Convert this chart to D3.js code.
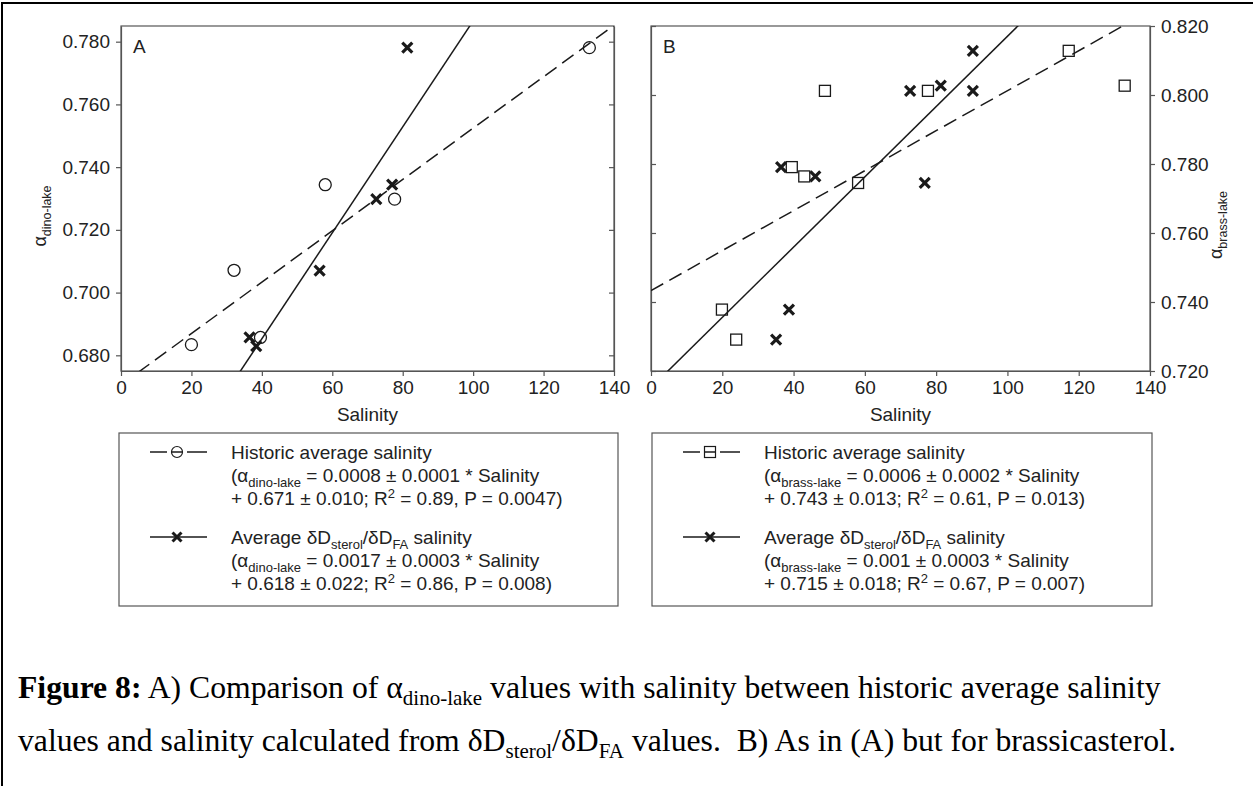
<!DOCTYPE html>
<html>
<head>
<meta charset="utf-8">
<script src="https://cdn.jsdelivr.net/npm/d3@7/dist/d3.min.js"></script>
<style>
  html, body { margin: 0; padding: 0; background: #fff; }
  svg { display: block; }
</style>
</head>
<body>
<svg id="fig" width="1253" height="786"></svg>
<script>
// ---- Panel A: dinosterol ----
const salA_hist   = [20.0, 32.1, 39.6, 58.0, 77.7, 133.0];
const alphaA_hist = [0.6834, 0.7071, 0.6857, 0.7344, 0.7298, 0.7781];
const salA_ster   = [36.5, 38.4, 56.4, 72.5, 77.0, 81.3];
const alphaA_ster = [0.6857, 0.6829, 0.7070, 0.7298, 0.7344, 0.7781];

// ---- Panel B: brassicasterol ----
const salB_hist   = [19.9, 23.9, 39.5, 43.0, 48.8, 58.1, 77.7, 117.2, 132.9];
const alphaB_hist = [0.7378, 0.7291, 0.7791, 0.7764, 0.8012, 0.7745, 0.8012, 0.8128, 0.8027];
const salB_ster   = [36.5, 38.7, 35.1, 46.1, 72.7, 76.8, 81.3, 90.3, 90.3];
const alphaB_ster = [0.7791, 0.7378, 0.7291, 0.7764, 0.8012, 0.7745, 0.8027, 0.8128, 0.8012];

// ---- Axis ticks ----
const salinityTicks = [0, 20, 40, 60, 80, 100, 120, 140];
const alphaTicksA = [0.680, 0.700, 0.720, 0.740, 0.760, 0.780];
const alphaTicksB = [0.720, 0.740, 0.760, 0.780, 0.800, 0.820];

// ---- Legend equations ----
const legendA = [
  {pre: "(α", sub: "dino-lake", post: " = 0.0008 ± 0.0001 * Salinity", line3: ["+ 0.671 ± 0.010; R", "2", " = 0.89, P = 0.0047)"]},
  {pre: "(α", sub: "dino-lake", post: " = 0.0017 ± 0.0003 * Salinity", line3: ["+ 0.618 ± 0.022; R", "2", " = 0.86, P = 0.008)"]}
];
const legendB = [
  {pre: "(α", sub: "brass-lake", post: " = 0.0006 ± 0.0002 * Salinity", line3: ["+ 0.743 ± 0.013; R", "2", " = 0.61, P = 0.013)"]},
  {pre: "(α", sub: "brass-lake", post: " = 0.001 ± 0.0003 * Salinity", line3: ["+ 0.715 ± 0.018; R", "2", " = 0.67, P = 0.007)"]}
];

const SANS = "'Liberation Sans', Arial, sans-serif";
const SERIF = "'Liberation Serif', 'Times New Roman', serif";
const INK = "#1a1a1a";
const AXIS = "#555";

const svg = d3.select("#fig");

// outer figure frame (top and left rules)
svg.append("line").attr("x1", 1).attr("x2", 1253).attr("y1", 3).attr("y2", 3)
  .attr("stroke", "#000").attr("stroke-width", 2);
svg.append("line").attr("x1", 2).attr("x2", 2).attr("y1", 3).attr("y2", 786)
  .attr("stroke", "#000").attr("stroke-width", 2);

// least-squares line through a series
function fit(xs, ys) {
  const mx = d3.mean(xs), my = d3.mean(ys);
  let sxy = 0, sxx = 0;
  xs.forEach((x, i) => { sxy += (x - mx) * (ys[i] - my); sxx += (x - mx) ** 2; });
  const m = sxy / sxx;
  return {m, b: my - m * mx};
}

function crossPath(s) {
  return `M${-s},${-s}L${s},${s}M${-s},${s}L${s},${-s}`;
}

function drawPanel(cfg) {
  const x = d3.scaleLinear().domain([0, 140]).range([cfg.left, cfg.right]);
  const y = d3.scaleLinear().domain(cfg.yDomain).range([cfg.bottom, cfg.top]);
  const g = svg.append("g");

  // frame
  g.append("rect").attr("x", cfg.left).attr("y", cfg.top)
    .attr("width", cfg.right - cfg.left).attr("height", cfg.bottom - cfg.top)
    .attr("fill", "none").attr("stroke", AXIS).attr("stroke-width", 1.2);

  // x axis
  const xa = g.append("g").attr("transform", `translate(0,${cfg.bottom})`)
    .call(d3.axisBottom(x).tickValues(salinityTicks).tickFormat(d3.format("d"))
      .tickSize(5).tickSizeOuter(0).tickPadding(5));
  // labelled y axis (outer side) and unlabelled inner ticks (opposite side)
  const fmt = d3.format(".3f");
  let ya, yi;
  if (cfg.ySide === "left") {
    ya = g.append("g").attr("transform", `translate(${cfg.left},0)`)
      .call(d3.axisLeft(y).tickValues(cfg.yTicks).tickFormat(fmt).tickSize(5).tickSizeOuter(0).tickPadding(6));
    yi = g.append("g").attr("transform", `translate(${cfg.right},0)`)
      .call(d3.axisLeft(y).tickValues(cfg.yTicks).tickFormat("").tickSize(5).tickSizeOuter(0));
  } else {
    ya = g.append("g").attr("transform", `translate(${cfg.right},0)`)
      .call(d3.axisRight(y).tickValues(cfg.yTicks).tickFormat(fmt).tickSize(5).tickSizeOuter(0).tickPadding(6));
    yi = g.append("g").attr("transform", `translate(${cfg.left},0)`)
      .call(d3.axisRight(y).tickValues(cfg.yTicks).tickFormat("").tickSize(5).tickSizeOuter(0));
  }
  [xa, ya, yi].forEach(a => {
    a.select(".domain").attr("stroke", AXIS).attr("stroke-width", 1.2);
    a.selectAll(".tick line").attr("stroke", AXIS).attr("stroke-width", 1.2);
    a.selectAll(".tick text").attr("fill", "#222").style("font-family", SANS).style("font-size", "19px");
  });

  // panel letter
  g.append("text").attr("x", cfg.left + 12).attr("y", 53).text(cfg.letter)
    .attr("fill", "#222").style("font-family", SANS).style("font-size", "19px");

  // axis titles
  g.append("text").attr("x", (cfg.left + cfg.right) / 2).attr("y", 421)
    .attr("text-anchor", "middle").attr("fill", "#222")
    .style("font-family", SANS).style("font-size", "19px").text("Salinity");
  const yt = g.append("text").attr("transform", `translate(${cfg.yTitleX},${cfg.yTitleY}) rotate(-90)`)
    .attr("text-anchor", "middle").attr("fill", "#222").style("font-family", SANS);
  yt.append("tspan").style("font-size", "18px").text("α");
  yt.append("tspan").style("font-size", "12.5px").attr("dy", 5).text(cfg.sub);

  // regression lines, clipped to the plot area
  const clipId = "clip" + cfg.letter;
  svg.append("clipPath").attr("id", clipId).append("rect")
    .attr("x", cfg.left).attr("y", cfg.top)
    .attr("width", cfg.right - cfg.left).attr("height", cfg.bottom - cfg.top);
  const lines = g.append("g").attr("clip-path", `url(#${clipId})`);
  const fh = fit(cfg.histX, cfg.histY);
  const fs = fit(cfg.sterX, cfg.sterY);
  const lineGen = d3.line().x(d => x(d[0])).y(d => y(d[1]));
  lines.append("path").datum([[0, fh.b], [140, fh.b + fh.m * 140]])
    .attr("d", lineGen).attr("fill", "none").attr("stroke", INK)
    .attr("stroke-width", 1.5).attr("stroke-dasharray", "14,7");
  lines.append("path").datum([[0, fs.b], [140, fs.b + fs.m * 140]])
    .attr("d", lineGen).attr("fill", "none").attr("stroke", INK).attr("stroke-width", 1.5);

  // historic markers
  const hist = cfg.histX.map((v, i) => [v, cfg.histY[i]]);
  if (cfg.marker === "circle") {
    g.selectAll(null).data(hist).enter().append("circle")
      .attr("cx", d => x(d[0])).attr("cy", d => y(d[1])).attr("r", 6)
      .attr("fill", "none").attr("stroke", INK).attr("stroke-width", 1.3);
  } else {
    g.selectAll(null).data(hist).enter().append("rect")
      .attr("x", d => x(d[0]) - 5.5).attr("y", d => y(d[1]) - 5.5)
      .attr("width", 11).attr("height", 11)
      .attr("fill", "none").attr("stroke", INK).attr("stroke-width", 1.3);
  }
  // sterol-derived markers
  const ster = cfg.sterX.map((v, i) => [v, cfg.sterY[i]]);
  g.selectAll(null).data(ster).enter().append("path")
    .attr("transform", d => `translate(${x(d[0])},${y(d[1])})`)
    .attr("d", crossPath(5)).attr("stroke", INK).attr("stroke-width", 3.2).attr("fill", "none");

  // legend box
  const L = cfg.legLeft, T = 433;
  g.append("rect").attr("x", L).attr("y", T).attr("width", cfg.legWidth).attr("height", 173)
    .attr("fill", "none").attr("stroke", AXIS).attr("stroke-width", 1.2);
  const c = L + 58;
  const rows = [452, 537];
  // dashed entry with hollow marker
  [[c - 27, c - 10], [c - 5, c + 5], [c + 10, c + 30]].forEach(s => {
    g.append("line").attr("x1", s[0]).attr("x2", s[1]).attr("y1", rows[0]).attr("y2", rows[0])
      .attr("stroke", INK).attr("stroke-width", 1.5);
  });
  if (cfg.marker === "circle") {
    g.append("circle").attr("cx", c).attr("cy", rows[0]).attr("r", 5.5)
      .attr("fill", "none").attr("stroke", INK).attr("stroke-width", 1.2);
  } else {
    g.append("rect").attr("x", c - 5.5).attr("y", rows[0] - 5.5).attr("width", 11).attr("height", 11)
      .attr("fill", "none").attr("stroke", INK).attr("stroke-width", 1.2);
  }
  // solid entry with cross
  g.append("line").attr("x1", c - 27).attr("x2", c + 30).attr("y1", rows[1]).attr("y2", rows[1])
    .attr("stroke", INK).attr("stroke-width", 1.5);
  g.append("path").attr("transform", `translate(${c},${rows[1]})`).attr("d", crossPath(4.5))
    .attr("stroke", INK).attr("stroke-width", 3).attr("fill", "none");

  const tx = L + 112;
  const lt = (yy) => g.append("text").attr("x", tx).attr("y", yy).attr("fill", "#222")
    .style("font-family", SANS).style("font-size", "19px");
  lt(459).text("Historic average salinity");
  const t2 = lt(544);
  t2.append("tspan").text("Average δD");
  t2.append("tspan").attr("dy", 5).style("font-size", "13px").text("sterol");
  t2.append("tspan").attr("dy", -5).text("/δD");
  t2.append("tspan").attr("dy", 5).style("font-size", "13px").text("FA");
  t2.append("tspan").attr("dy", -5).text(" salinity");

  cfg.legend.forEach((e, i) => {
    const base = i === 0 ? 482 : 567;
    const a = lt(base);
    a.append("tspan").text(e.pre);
    a.append("tspan").attr("dy", 5).style("font-size", "13px").text(e.sub);
    a.append("tspan").attr("dy", -5).text(e.post);
    const b = lt(base + 23);
    b.append("tspan").text(e.line3[0]);
    b.append("tspan").attr("dy", -7).style("font-size", "13px").text(e.line3[1]);
    b.append("tspan").attr("dy", 7).text(e.line3[2]);
  });
}

drawPanel({
  letter: "A", left: 121, right: 614, top: 26, bottom: 371,
  yDomain: [0.675, 0.785], yTicks: alphaTicksA, ySide: "left",
  yTitleX: 46, yTitleY: 216, sub: "dino-lake",
  histX: salA_hist, histY: alphaA_hist, sterX: salA_ster, sterY: alphaA_ster,
  marker: "circle", legLeft: 119, legWidth: 499, legend: legendA
});

drawPanel({
  letter: "B", left: 651, right: 1150, top: 26, bottom: 371,
  yDomain: [0.720, 0.820], yTicks: alphaTicksB, ySide: "right",
  yTitleX: 1222, yTitleY: 225, sub: "brass-lake",
  histX: salB_hist, histY: alphaB_hist, sterX: salB_ster, sterY: alphaB_ster,
  marker: "square", legLeft: 652, legWidth: 500, legend: legendB
});

// caption
const cap1 = svg.append("text").attr("x", 18).attr("y", 698).attr("fill", "#000")
  .style("font-family", SERIF).style("font-size", "31.7px");
cap1.append("tspan").style("font-weight", "bold").text("Figure 8:");
cap1.append("tspan").text(" A) Comparison of α");
cap1.append("tspan").attr("dy", 7).style("font-size", "21px").text("dino-lake");
cap1.append("tspan").attr("dy", -7).text(" values with salinity between historic average salinity");

const cap2 = svg.append("text").attr("x", 18).attr("y", 751).attr("fill", "#000")
  .style("font-family", SERIF).style("font-size", "31.7px");
cap2.append("tspan").text("values and salinity calculated from δD");
cap2.append("tspan").attr("dy", 7).style("font-size", "21px").text("sterol");
cap2.append("tspan").attr("dy", -7).text("/δD");
cap2.append("tspan").attr("dy", 7).style("font-size", "21px").text("FA");
cap2.append("tspan").attr("dy", -7).text(" values.\u00A0 B) As in (A) but for brassicasterol.");
</script>
</body>
</html>
